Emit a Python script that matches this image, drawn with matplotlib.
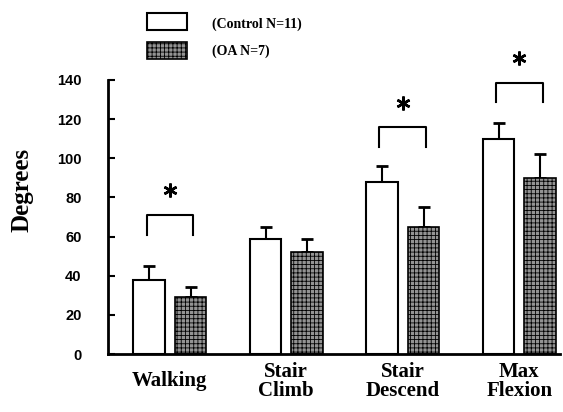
import matplotlib
matplotlib.use("Agg")
import matplotlib.pyplot as plt
from matplotlib.patches import Rectangle
import numpy as np

categories = ["Walking", "Stair\nClimb", "Stair\nDescend", "Max\nFlexion"]
series_names = ["(Control N=11)", "(OA N=7)"]
control = [38, 59, 88, 110]
control_err = [7, 6, 8, 8]
oa = [29, 52, 65, 90]
oa_err = [5, 7, 10, 12]
yticks = [0, 20, 40, 60, 80, 100, 120, 140]
# significance brackets: (category index, top of bracket, leg bottom, star level)
sig_groups = [0, 2, 3]
sig_top = [71, 116, 138.5]
sig_leg = [61, 106, 129]
sig_star = [84, 128.5, 151]

plt.rcParams["hatch.linewidth"] = 0.6
W, H = 563, 412
fig = plt.figure(figsize=(W / 100, H / 100), dpi=100)
ax = fig.add_axes([108 / W, 1 - 354 / H, (560 - 108) / W, (354 - 80) / H])

x = np.arange(len(categories))
bw = 0.27
off = 0.178
ax.bar(x - off, control, bw, color="white", edgecolor="black", linewidth=1.5, zorder=2)
ax.bar(x + off, oa, bw, color="#939393", edgecolor="black", linewidth=1.2,
       hatch="++++", zorder=2)
ax.errorbar(x - off, control, yerr=[np.zeros(4), control_err], fmt="none",
            ecolor="black", elinewidth=1.5, capsize=4, capthick=2, zorder=1)
ax.errorbar(x + off, oa, yerr=[np.zeros(4), oa_err], fmt="none",
            ecolor="black", elinewidth=1.5, capsize=4, capthick=2, zorder=1)

for g, t, l, s in zip(sig_groups, sig_top, sig_leg, sig_star):
    xl, xr = g - 0.2, g + 0.2
    ax.plot([xl, xl, xr, xr], [l, t, t, l], color="black", lw=1.5, clip_on=False)
    ax.plot([g], [s], marker=(6, 2, 0), markersize=10, mew=1.8, color="black",
            clip_on=False)

ax.set_xlim(-0.531, 3.35)
ax.set_ylim(0, 140)
ax.set_yticks(yticks)
ax.set_yticklabels([str(v) for v in yticks], fontsize=10.5, fontweight="bold",
                   family="Liberation Sans")
ax.tick_params(axis="y", direction="in", length=5, width=1.5, pad=19)
ax.set_xticks([])
for s in ["top", "right"]:
    ax.spines[s].set_visible(False)
ax.spines["left"].set_linewidth(2)
ax.spines["bottom"].set_linewidth(2)

for xi, lab in zip(x, categories):
    ax.text(xi, -14, lab, ha="center", va="center", fontsize=15, fontweight="bold",
            family="Liberation Serif", linespacing=0.9, clip_on=False)

fig.text(22 / W, 1 - 190 / H, "Degrees", rotation=90, ha="center", va="center",
         fontsize=18, fontweight="bold", family="Liberation Serif")

# legend
fig.patches.append(Rectangle((147 / W, 1 - 30 / H), 40 / W, 17 / H, transform=fig.transFigure,
                             facecolor="white", edgecolor="black", linewidth=1.5))
fig.patches.append(Rectangle((147 / W, 1 - 59 / H), 40 / W, 17 / H, transform=fig.transFigure,
                             facecolor="#939393", edgecolor="black", linewidth=1.2,
                             hatch="++++"))
fig.text(212 / W, 1 - 24 / H, series_names[0], ha="left", va="center", fontsize=10,
         fontweight="bold", family="Liberation Serif")
fig.text(212 / W, 1 - 51 / H, series_names[1], ha="left", va="center", fontsize=10,
         fontweight="bold", family="Liberation Serif")

fig.savefig("out.png", dpi=100)
